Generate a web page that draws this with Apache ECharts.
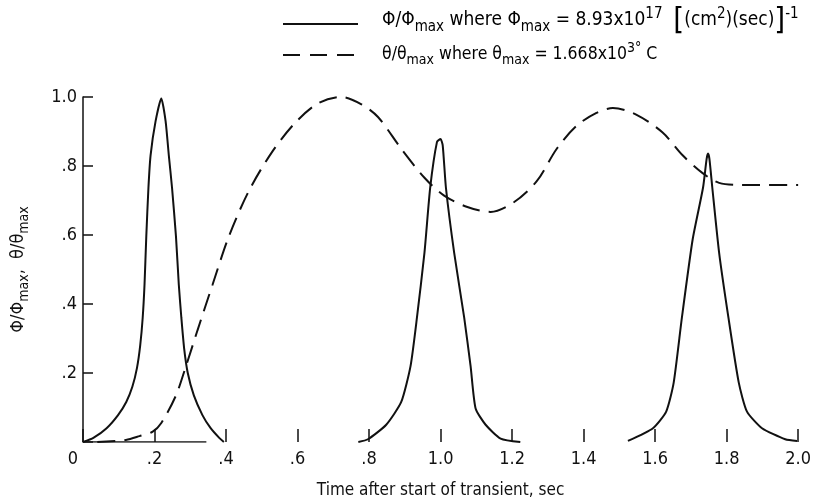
<!DOCTYPE html>
<html>
<head>
<meta charset="utf-8">
<script src="https://cdn.jsdelivr.net/npm/echarts@6/dist/echarts.min.js"></script>
<style>
  html, body { margin: 0; padding: 0; background: #fff; }
  #chart { width: 814px; height: 504px; }
</style>
</head>
<body>
<div id="chart"></div>
<script>
// values: [time (sec), normalized value]
var phiPeak1 = [[0, 0], [0.029, 0.012], [0.066, 0.04], [0.098, 0.078], [0.121, 0.116], [0.138, 0.16],
  [0.151, 0.215], [0.16, 0.28], [0.167, 0.361], [0.172, 0.455], [0.177, 0.596], [0.183, 0.737], [0.189, 0.831],
  [0.203, 0.93], [0.219, 0.996], [0.231, 0.93], [0.24, 0.831], [0.249, 0.737], [0.26, 0.596],
  [0.268, 0.455], [0.275, 0.361], [0.283, 0.27], [0.293, 0.2], [0.31, 0.135], [0.334, 0.078],
  [0.357, 0.04], [0.381, 0.012], [0.394, 0]];
var phiPeak2 = [[0.77, 0], [0.797, 0.008], [0.848, 0.05], [0.89, 0.116], [0.916, 0.22], [0.934, 0.361],
  [0.955, 0.549], [0.971, 0.737], [0.99, 0.87], [1.0, 0.878], [1.006, 0.86], [1.015, 0.737],
  [1.038, 0.549], [1.066, 0.361], [1.084, 0.22], [1.098, 0.097], [1.126, 0.05], [1.168, 0.01], [1.223, 0]];
var phiPeak3 = [[1.524, 0.003], [1.594, 0.04], [1.631, 0.088], [1.652, 0.172], [1.675, 0.361],
  [1.705, 0.587], [1.734, 0.737], [1.744, 0.82], [1.748, 0.836], [1.752, 0.82], [1.76, 0.737],
  [1.779, 0.549], [1.805, 0.361], [1.834, 0.172], [1.857, 0.088], [1.899, 0.04], [1.964, 0.008], [1.997, 0.003]];
var thetaCurve = [[0.04, 0], [0.12, 0.006], [0.158, 0.017], [0.195, 0.03], [0.219, 0.055], [0.26, 0.135],
  [0.288, 0.22], [0.32, 0.323], [0.362, 0.455], [0.408, 0.596], [0.464, 0.728], [0.529, 0.841],
  [0.594, 0.926], [0.658, 0.982], [0.723, 1.0], [0.78, 0.978], [0.825, 0.942], [0.89, 0.85],
  [0.955, 0.766], [1.01, 0.714], [1.075, 0.681], [1.14, 0.667], [1.205, 0.695], [1.269, 0.756],
  [1.325, 0.85], [1.38, 0.916], [1.436, 0.954], [1.482, 0.968], [1.547, 0.949], [1.621, 0.897],
  [1.677, 0.831], [1.732, 0.78], [1.779, 0.751], [1.844, 0.745], [2.0, 0.745]];
// the scan only shows the zero line under the first peak
var baselineSpan = [[0, 0], [0.345, 0]];

var font = "'Liberation Sans Narrow', 'DejaVu Sans Condensed', 'Roboto Condensed', sans-serif";
var ink = '#111';

// phi series with gaps between the three windows
var phiData = phiPeak1.concat([[0.58, null]], phiPeak2, [[1.37, null]], phiPeak3);

function tickText(v) {
  var s = (Math.round(v * 10) / 10).toFixed(1);
  if (v === 0) return '0';
  if (s.charAt(0) === '0') s = s.slice(1);
  return s;
}

function richSet(size) {
  var small = Math.round(size * 0.78);
  return {
    n: { fontFamily: font, fontSize: size, color: ink },
    s: { fontFamily: font, fontSize: small, color: ink, padding: [Math.round(size * 0.66), 0, 0, 0] },
    p: { fontFamily: font, fontSize: small, color: ink, padding: [0, 0, Math.round(size * 0.66), 0] },
    b: { fontFamily: font, fontSize: Math.round(size * 1.65), color: ink }
  };
}

var chart = echarts.init(document.getElementById('chart'));
chart.setOption({
  animation: false,
  backgroundColor: '#fff',
  grid: { left: 83, right: 12, top: 97, bottom: 52 },
  xAxis: {
    type: 'value', min: 0, max: 2, interval: 0.2,
    axisLine: { show: false },
    axisTick: { show: true, inside: true, length: 13, lineStyle: { color: ink, width: 1.5 } },
    splitLine: { show: false },
    axisLabel: {
      margin: 8, color: ink, fontFamily: font, fontSize: 18,
      formatter: function (v) { return v === 0 ? '{z|0}' : tickText(v); },
      rich: { z: { fontFamily: font, fontSize: 18, color: ink, padding: [0, 20, 0, 0] } }
    },
    name: 'Time after start of transient, sec',
    nameLocation: 'middle', nameGap: 40,
    nameTextStyle: { color: ink, fontFamily: font, fontSize: 17 }
  },
  yAxis: {
    type: 'value', min: 0, max: 1, interval: 0.2,
    axisLine: { show: true, lineStyle: { color: ink, width: 1.5 } },
    axisTick: { show: true, inside: true, length: 10, lineStyle: { color: ink, width: 1.5 } },
    splitLine: { show: false },
    axisLabel: {
      margin: 6, color: ink, fontFamily: font, fontSize: 18,
      formatter: function (v) { return v === 0 ? '' : tickText(v); }
    },
    name: '{n|Φ/Φ}{s|max}{n|,  θ/θ}{s|max}',
    nameLocation: 'middle', nameRotate: 90, nameGap: 52,
    nameTextStyle: { rich: richSet(18) }
  },
  series: [
    {
      name: 'phi', type: 'line', data: phiData, showSymbol: false, connectNulls: false,
      smooth: 0.2, lineStyle: { color: ink, width: 2 }
    },
    {
      name: 'theta', type: 'line', data: thetaCurve, showSymbol: false,
      smooth: 0.3, lineStyle: { color: ink, width: 2, type: [18, 9] }
    },
    {
      name: 'baseline', type: 'line', data: baselineSpan, showSymbol: false, silent: true,
      lineStyle: { color: ink, width: 1.5 }
    }
  ],
  graphic: [
    { type: 'line', shape: { x1: 283, y1: 24, x2: 358, y2: 24 }, style: { stroke: ink, lineWidth: 2 } },
    { type: 'line', shape: { x1: 283, y1: 55, x2: 358, y2: 55 }, style: { stroke: ink, lineWidth: 2, lineDash: [17, 10] } },
    {
      type: 'text', left: 382, top: 5,
      style: {
        text: '{n|Φ/Φ}{s|max}{n| where Φ}{s|max}{n| = 8.93x10}{p|17}{n|  }{b|[}{n|(cm}{p|2}{n|)(sec)}{b|]}{p|-1}',
        rich: richSet(19)
      }
    },
    {
      type: 'text', left: 382, top: 41,
      style: {
        text: '{n|θ/θ}{s|max}{n| where θ}{s|max}{n| = 1.668x10}{p|3°}{n| C}',
        rich: richSet(17.5)
      }
    }
  ]
});
</script>
</body>
</html>
